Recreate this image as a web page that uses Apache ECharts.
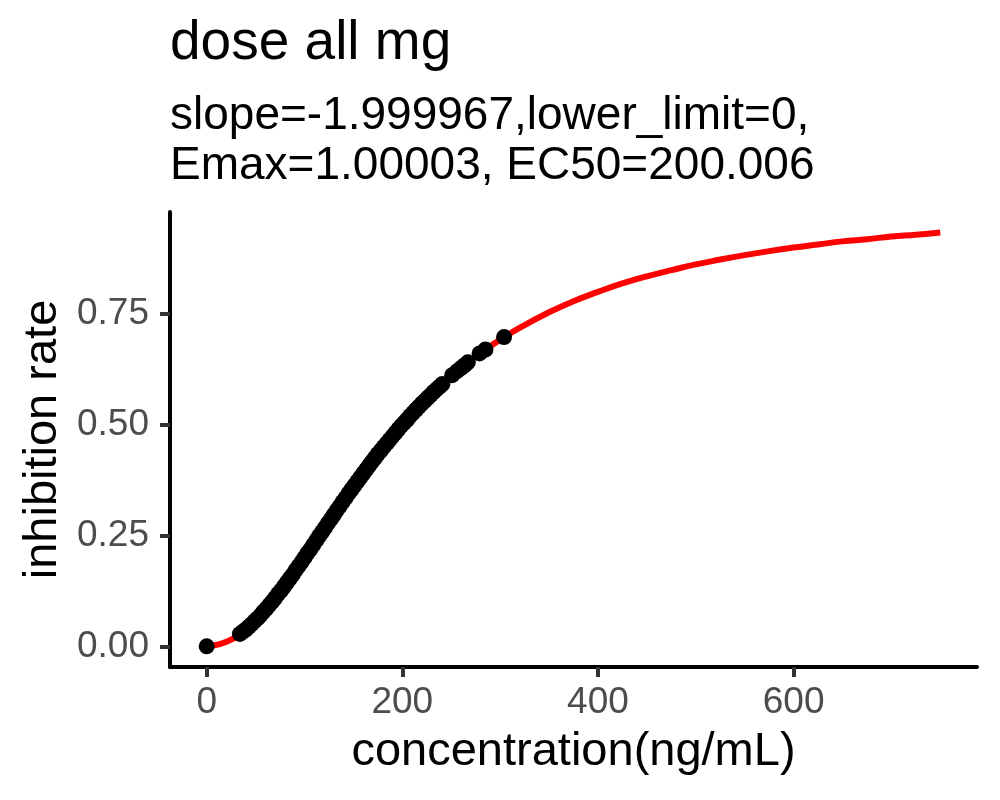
<!DOCTYPE html>
<html>
<head>
<meta charset="utf-8">
<script src="https://cdn.jsdelivr.net/npm/echarts@6/dist/echarts.min.js"></script>
<style>
  html, body { margin: 0; padding: 0; background: #fff; }
  #chart { width: 1000px; height: 800px; }
</style>
</head>
<body>
<div id="chart"></div>
<script>
// fitted curve
var curveX = [0, 25, 50, 75, 100, 125, 150, 175, 200, 225, 250, 275, 300, 325, 350, 375,
  400, 425, 450, 475, 500, 525, 550, 575, 600, 625, 650, 675, 700, 725, 750]
var curveY = [0, 0.015, 0.059, 0.123, 0.200, 0.281, 0.360, 0.434, 0.500, 0.559, 0.610, 0.654,
  0.692, 0.725, 0.754, 0.779, 0.800, 0.819, 0.835, 0.849, 0.862, 0.873, 0.883, 0.892,
  0.900, 0.907, 0.914, 0.919, 0.925, 0.929, 0.934]

// observed points
var pointX = [0, 34, 37, 40, 43, 46, 49, 52, 55, 58, 61, 64, 67, 70, 73, 76, 79, 82, 85, 88,
  91, 94, 97, 100, 103, 106, 109, 112, 115, 118, 121, 124, 127, 130, 133, 136, 139, 142, 145,
  148, 151, 154, 157, 160, 163, 166, 169, 172, 175, 178, 181, 184, 187, 190, 193, 196, 199,
  202, 205, 208, 211, 214, 217, 220, 223, 226, 229, 232, 235, 238, 241, 251, 256, 260, 264,
  267, 279, 285, 304]
var pointY = [0, 0.028, 0.033, 0.038, 0.044, 0.050, 0.057, 0.063, 0.070, 0.078, 0.085, 0.093,
  0.101, 0.109, 0.118, 0.126, 0.135, 0.144, 0.153, 0.162, 0.172, 0.181, 0.190, 0.200, 0.210,
  0.219, 0.229, 0.239, 0.249, 0.258, 0.268, 0.278, 0.287, 0.297, 0.307, 0.316, 0.326, 0.335,
  0.345, 0.354, 0.363, 0.372, 0.381, 0.390, 0.399, 0.408, 0.417, 0.425, 0.434, 0.442, 0.450,
  0.458, 0.466, 0.474, 0.482, 0.490, 0.498, 0.505, 0.512, 0.520, 0.527, 0.534, 0.541, 0.548,
  0.554, 0.561, 0.567, 0.574, 0.580, 0.586, 0.592, 0.612, 0.621, 0.628, 0.635, 0.641, 0.661,
  0.670, 0.698]

var xTicks = [0, 200, 400, 600]
var yTicks = [0, 0.25, 0.5, 0.75]

var titleText = 'dose all mg'
var subText = 'slope=-1.999967,lower_limit=0,\nEmax=1.00003, EC50=200.006'

var font = '"Liberation Sans", Arial, Helvetica, sans-serif'

function zip(xs, ys) {
  return xs.map(function (x, i) { return [x, ys[i]] })
}

var chart = echarts.init(document.getElementById('chart'), null, { renderer: 'canvas' })

chart.setOption({
  backgroundColor: '#fff',
  animation: false,
  title: {
    text: titleText,
    subtext: subText,
    left: 170,
    top: 16,
    padding: 0,
    itemGap: 20,
    textStyle: {
      fontFamily: font,
      fontSize: 55,
      fontWeight: 'normal',
      color: '#000',
      lineHeight: 55
    },
    subtextStyle: {
      fontFamily: font,
      fontSize: 46,
      color: '#000',
      lineHeight: 50
    }
  },
  grid: {
    left: 170,
    right: 23,
    top: 212,
    bottom: 133,
    containLabel: false
  },
  xAxis: {
    type: 'value',
    min: -37.5,
    max: 787.5,
    name: 'concentration(ng/mL)',
    nameLocation: 'middle',
    nameGap: 62,
    nameTextStyle: { fontFamily: font, fontSize: 47, color: '#000', lineHeight: 47 },
    axisLine: { show: true, onZero: false, lineStyle: { color: '#000', width: 4 } },
    axisTick: {
      show: true,
      length: 10,
      customValues: xTicks,
      lineStyle: { color: '#333', width: 4 }
    },
    axisLabel: {
      margin: 17,
      customValues: xTicks,
      fontFamily: font,
      fontSize: 37,
      color: '#4D4D4D',
      formatter: function (v) { return String(v) }
    },
    splitLine: { show: false }
  },
  yAxis: {
    type: 'value',
    min: -0.0467,
    max: 0.9803,
    name: 'inhibition rate',
    nameLocation: 'middle',
    nameGap: 94,
    nameTextStyle: { fontFamily: font, fontSize: 47, color: '#000', lineHeight: 47 },
    axisLine: { show: true, onZero: false, lineStyle: { color: '#000', width: 4 } },
    axisTick: {
      show: true,
      length: 10,
      customValues: yTicks,
      lineStyle: { color: '#333', width: 4 }
    },
    axisLabel: {
      margin: 21,
      customValues: yTicks,
      fontFamily: font,
      fontSize: 37,
      color: '#4D4D4D',
      formatter: function (v) { return v.toFixed(2) }
    },
    splitLine: { show: false }
  },
  series: [
    {
      type: 'line',
      data: zip(curveX, curveY),
      smooth: true,
      showSymbol: false,
      lineStyle: { color: '#FF0000', width: 6 },
      z: 2
    },
    {
      type: 'scatter',
      data: zip(pointX, pointY),
      symbolSize: 16,
      itemStyle: { color: '#000', opacity: 1 },
      z: 3
    }
  ]
})
</script>
</body>
</html>
